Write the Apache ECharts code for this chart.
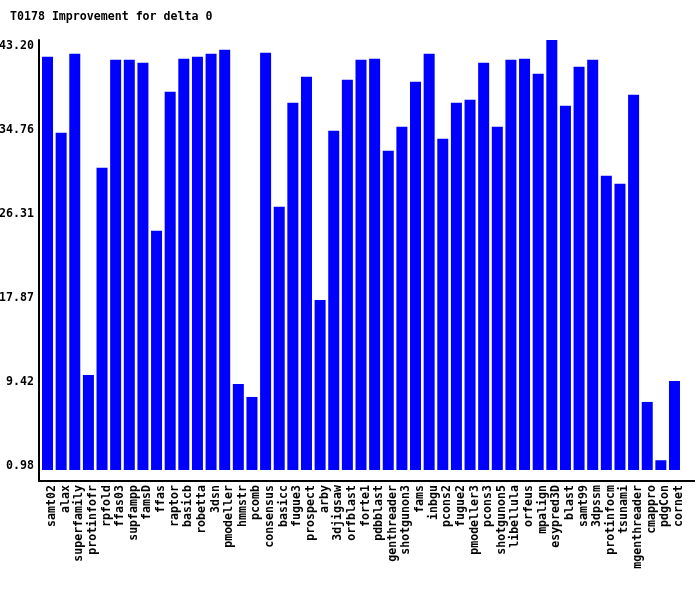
<!DOCTYPE html>
<html><head><meta charset="utf-8">
<script src="https://cdn.jsdelivr.net/npm/echarts@6/dist/echarts.min.js"></script>
<style>html,body{margin:0;padding:0;background:#fff}#c{width:700px;height:590px}</style>
</head><body><div id="c"></div>
<script>
var titleText = 'T0178 Improvement for delta 0';
var categories = ['samt02','alax','superfamily','protinfofr','rpfold','ffas03','supfampp','famsD','ffas','raptor','basicb','robetta','3dsn','pmodeller','hmmstr','pcomb','consensus','basicc','fugue3','prospect','arby','3djigsaw','orfblast','forte1','pdbblast','genthreader','shotgunon3','fams','inbgu','pcons2','fugue2','pmodeller3','pcons3','shotgunon5','libellula','orfeus','mpalign','esypred3D','blast','samt99','3dpssm','protinfocm','tsunami','mgenthreader','cmappro','pdgCon','cornet'];
var values = [41.52,33.88,41.82,9.55,30.36,41.21,41.21,40.91,24.03,38.00,41.32,41.52,41.82,42.22,8.64,7.34,41.92,26.44,36.89,39.51,17.09,34.08,39.20,41.21,41.32,32.07,34.48,39.00,41.82,33.27,36.89,37.19,40.91,34.48,41.21,41.32,39.81,43.20,36.59,40.51,41.21,29.55,28.75,37.70,6.84,0.98,8.95];
var yTicks = [0.98, 9.42, 17.87, 26.31, 34.76, 43.20];

var FONT = 'DejaVu Sans Mono';
var chart = echarts.init(document.getElementById('c'), null, {renderer: 'canvas'});
chart.setOption({
  animation: false,
  backgroundColor: '#ffffff',
  title: {
    text: titleText, left: 5, top: 6,
    textStyle: {fontFamily: FONT, fontWeight: 'bold', fontSize: 11.6, color: '#000'}
  },
  grid: {left: 40.7, right: 18.7, top: 40, bottom: 109, containLabel: false, outerBoundsMode: 'none'},
  xAxis: {
    type: 'category', data: categories,
    axisLine: {show: false}, axisTick: {show: false},
    axisLabel: {
      interval: 0, rotate: 90, margin: 4,
      verticalAlign: 'top', lineHeight: 9,
      fontFamily: FONT, fontWeight: 'bold', fontSize: 11.6, color: '#000'
    }
  },
  yAxis: {
    type: 'value', min: -1.106, max: 43.2, offset: 1.7,
    axisLine: {show: true, lineStyle: {color: '#000', width: 2}},
    axisTick: {show: false}, splitLine: {show: false},
    axisLabel: {
      customValues: yTicks, margin: 5, verticalAlign: 'top',
      formatter: function (v) { return v.toFixed(2); },
      fontFamily: FONT, fontWeight: 'bold', fontSize: 11.6, color: '#000'
    }
  },
  graphic: [{
    type: 'line', shape: {x1: 38, y1: 481, x2: 695, y2: 481},
    style: {stroke: '#000', lineWidth: 2}
  }],
  series: [{
    type: 'bar', data: values, barWidth: 11,
    itemStyle: {color: '#0000ff'}
  }]
});
</script></body></html>
